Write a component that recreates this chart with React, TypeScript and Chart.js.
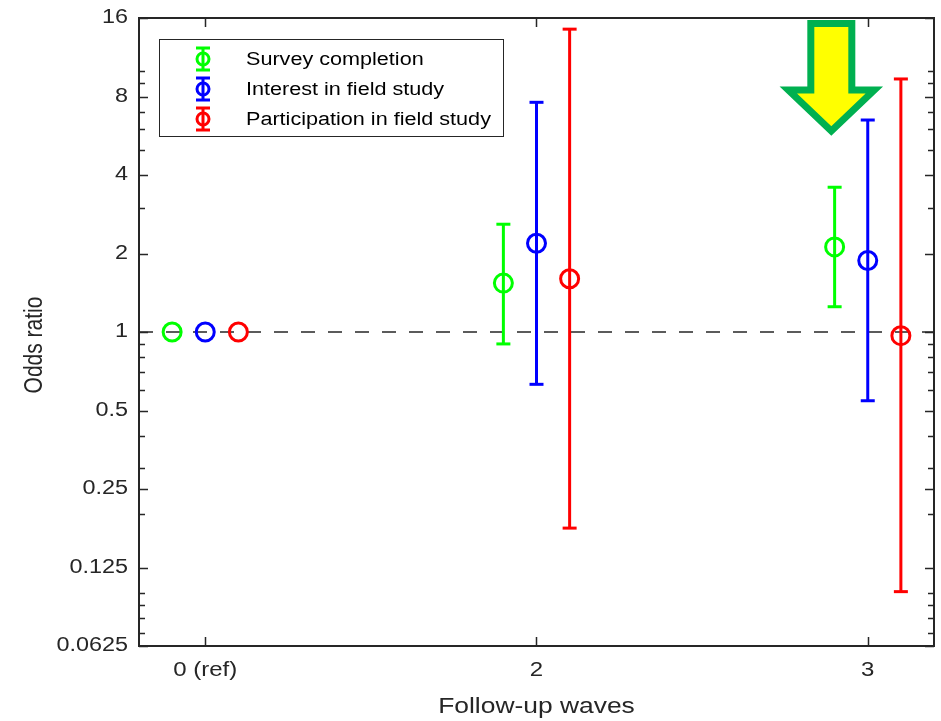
import React, { useEffect, useRef } from "react";
import { Chart, registerables } from "chart.js";

Chart.register(...registerables);

// Categories along the x axis (follow-up waves) and the three outcome series
const waveLabels = ["0 (ref)", "2", "3"];
const seriesNames = ["Survey completion", "Interest in field study", "Participation in field study"];
const seriesColors = ["#00ff00", "#0000ff", "#ff0000"];
const seriesShift = [-0.1, 0, 0.1];

// Odds ratios with 95% confidence limits per wave (reference wave has no interval)
const surveyOR = [1, 1.54, 2.12];
const surveyLow = [null, 0.9, 1.25];
const surveyHigh = [null, 2.59, 3.59];

const interestOR = [1, 2.19, 1.88];
const interestLow = [null, 0.63, 0.545];
const interestHigh = [null, 7.6, 6.5];

const participationOR = [1, 1.6, 0.968];
const participationLow = [null, 0.177, 0.101];
const participationHigh = [null, 14.5, 9.34];

// Log2 axis ticks
const yTicks = [0.0625, 0.125, 0.25, 0.5, 1, 2, 4, 8, 16];
const yTickLabels = ["0.0625", "0.125", "0.25", "0.5", "1", "2", "4", "8", "16"];
const yMinorTicks = [0.07, 0.08, 0.09, 0.1, 0.2, 0.3, 0.4, 0.6, 0.7, 0.8, 0.9, 3, 5, 6, 7, 9, 10];
const referenceOdds = 1;

// Highlight arrow pointing at wave 3
const arrowWave = 1.89;
const arrowTipOdds = 5.9;

const FONT = "'Liberation Sans', Arial, Helvetica, sans-serif";
const AXIS_COLOR = "#262626";
const TEXT_STRETCH = 1.2; // wide lettering

const orSeries = [surveyOR, interestOR, participationOR];
const lowSeries = [surveyLow, interestLow, participationLow];
const highSeries = [surveyHigh, interestHigh, participationHigh];

function buildDatasets() {
  const sets: any[] = [];
  for (let s = 0; s < seriesNames.length; s++) {
    sets.push({
      type: "scatter",
      label: seriesNames[s],
      data: orSeries[s].map((v, i) => ({ x: i + seriesShift[s], y: v })),
      pointStyle: "circle",
      pointRadius: 9,
      borderWidth: 3,
      borderColor: seriesColors[s],
      backgroundColor: "rgba(0,0,0,0)",
      showLine: false,
      order: 0,
    });
    for (let i = 0; i < waveLabels.length; i++) {
      const lo = lowSeries[s][i];
      const hi = highSeries[s][i];
      if (lo == null || hi == null) continue;
      sets.push({
        type: "line",
        label: seriesNames[s] + " CI " + waveLabels[i],
        data: [
          { x: i + seriesShift[s], y: lo },
          { x: i + seriesShift[s], y: hi },
        ],
        borderColor: seriesColors[s],
        borderWidth: 3,
        pointStyle: "line",
        pointRadius: 7,
        pointBorderWidth: 3,
        pointBorderColor: seriesColors[s],
        backgroundColor: seriesColors[s],
        order: 1,
      });
    }
  }
  return sets;
}

// Text widened horizontally (on the page) around its anchor point
function wideText(ctx: any, text: string, x: number, y: number, size: number, align: string, rotate = 0, color = AXIS_COLOR) {
  ctx.save();
  ctx.translate(x, y);
  if (rotate) {
    ctx.rotate(rotate);
    ctx.scale(1, TEXT_STRETCH);
  } else {
    ctx.scale(TEXT_STRETCH, 1);
  }
  ctx.font = `${size}px ${FONT}`;
  ctx.fillStyle = color;
  ctx.textAlign = align;
  ctx.textBaseline = "middle";
  ctx.fillText(text, 0, 0);
  ctx.restore();
}

// Dashed reference line at OR = 1
const referenceLine = {
  id: "referenceLine",
  beforeDatasetsDraw(chart: any) {
    const { ctx, chartArea, scales } = chart;
    const y = scales.y.getPixelForValue(referenceOdds);
    ctx.save();
    ctx.strokeStyle = AXIS_COLOR;
    ctx.lineWidth = 1.5;
    ctx.setLineDash([14, 13]);
    ctx.beginPath();
    ctx.moveTo(chartArea.left, y);
    ctx.lineTo(chartArea.right, y);
    ctx.stroke();
    ctx.restore();
  },
};

// Box frame with inward tick marks, axis text, legend and the highlight arrow
const decorations = {
  id: "decorations",
  afterDraw(chart: any) {
    const { ctx, chartArea, scales, height } = chart;
    const { left, right, top, bottom } = chartArea;
    ctx.save();

    // arrow
    const ax = scales.x.getPixelForValue(arrowWave);
    const tipY = scales.y.getPixelForValue(arrowTipOdds);
    const shaftHalf = 20.5;
    const headHalf = 43;
    const headH = 41;
    const topY = top + 5.5;
    ctx.beginPath();
    ctx.moveTo(ax - shaftHalf, topY);
    ctx.lineTo(ax + shaftHalf, topY);
    ctx.lineTo(ax + shaftHalf, tipY - headH);
    ctx.lineTo(ax + headHalf, tipY - headH);
    ctx.lineTo(ax, tipY);
    ctx.lineTo(ax - headHalf, tipY - headH);
    ctx.lineTo(ax - shaftHalf, tipY - headH);
    ctx.closePath();
    ctx.fillStyle = "#ffff00";
    ctx.fill();
    ctx.lineWidth = 7;
    ctx.lineJoin = "miter";
    ctx.strokeStyle = "#00b050";
    ctx.stroke();

    // frame
    ctx.strokeStyle = AXIS_COLOR;
    ctx.lineWidth = 2;
    ctx.strokeRect(left, top, right - left, bottom - top);

    // y ticks (left and right, inward) with labels
    ctx.lineWidth = 1.5;
    const drawY = (v: number, len: number) => {
      const y = Math.round(scales.y.getPixelForValue(v)) + 0.5;
      ctx.beginPath();
      ctx.moveTo(left, y);
      ctx.lineTo(left + len, y);
      ctx.moveTo(right, y);
      ctx.lineTo(right - len, y);
      ctx.stroke();
    };
    yTicks.forEach((v) => drawY(v, 9));
    yMinorTicks.forEach((v) => drawY(v, 6));
    yTicks.forEach((v, i) => {
      wideText(ctx, yTickLabels[i], left - 11, scales.y.getPixelForValue(v), 19.5, "right");
    });

    // x ticks (bottom and top, inward) with labels
    ctx.strokeStyle = AXIS_COLOR;
    ctx.lineWidth = 1.5;
    waveLabels.forEach((label, i) => {
      const x = Math.round(scales.x.getPixelForValue(i)) + 0.5;
      ctx.beginPath();
      ctx.moveTo(x, bottom);
      ctx.lineTo(x, bottom - 9);
      ctx.moveTo(x, top);
      ctx.lineTo(x, top + 9);
      ctx.stroke();
      wideText(ctx, label, scales.x.getPixelForValue(i), bottom + 24, 20, "center");
    });

    // axis titles
    wideText(ctx, "Follow-up waves", (left + right) / 2, height - 14, 22, "center");
    wideText(ctx, "Odds ratio", 35, (top + bottom) / 2 + 13, 21, "center", -Math.PI / 2);

    // legend
    const lx = left + 20;
    const ly = top + 21;
    const lw = 344;
    const lh = 97;
    ctx.fillStyle = "#ffffff";
    ctx.fillRect(lx, ly, lw, lh);
    ctx.strokeStyle = AXIS_COLOR;
    ctx.lineWidth = 1;
    ctx.strokeRect(lx + 0.5, ly + 0.5, lw, lh);
    seriesNames.forEach((name, s) => {
      const cy = ly + 20 + s * 30;
      const cx = lx + 44;
      ctx.strokeStyle = seriesColors[s];
      ctx.lineWidth = 3;
      ctx.beginPath();
      ctx.moveTo(cx, cy - 11);
      ctx.lineTo(cx, cy + 11);
      ctx.moveTo(cx - 7, cy - 11);
      ctx.lineTo(cx + 7, cy - 11);
      ctx.moveTo(cx - 7, cy + 11);
      ctx.lineTo(cx + 7, cy + 11);
      ctx.stroke();
      ctx.beginPath();
      ctx.arc(cx, cy, 6, 0, Math.PI * 2);
      ctx.stroke();
      wideText(ctx, name, lx + 87, cy + 1, 18, "left", 0, "#000000");
    });

    ctx.restore();
  },
};

export default function App() {
  const canvasRef = useRef<HTMLCanvasElement | null>(null);

  useEffect(() => {
    document.body.style.margin = "0";
    const canvas = canvasRef.current;
    if (!canvas) return;
    const chart = new Chart(canvas, {
      type: "scatter",
      data: { datasets: buildDatasets() },
      options: {
        animation: false,
        responsive: false,
        maintainAspectRatio: false,
        events: [],
        layout: { autoPadding: false, padding: { top: 18, right: 7, left: 0, bottom: 0 } },
        plugins: {
          legend: { display: false },
          tooltip: { enabled: false },
        },
        scales: {
          x: {
            type: "linear",
            min: -0.2,
            max: 2.2,
            grid: { display: false, drawTicks: false },
            border: { display: false },
            afterBuildTicks: (scale: any) => {
              scale.ticks = waveLabels.map((_, i) => ({ value: i }));
            },
            afterFit: (scale: any) => {
              scale.height = 75;
            },
            ticks: { display: false },
          },
          y: {
            type: "logarithmic",
            min: 0.0625,
            max: 16,
            grid: { display: false, drawTicks: false },
            border: { display: false },
            afterBuildTicks: (scale: any) => {
              scale.ticks = yTicks.map((v) => ({ value: v }));
            },
            afterFit: (scale: any) => {
              scale.width = 139;
            },
            ticks: { display: false },
          },
        },
      },
      plugins: [referenceLine, decorations],
    } as any);
    return () => chart.destroy();
  }, []);

  return (
    <div style={{ position: "absolute", left: 0, top: 0, width: 941, height: 721, background: "#ffffff" }}>
      <canvas ref={canvasRef} width={941} height={721} style={{ display: "block", width: 941, height: 721 }} />
    </div>
  );
}
